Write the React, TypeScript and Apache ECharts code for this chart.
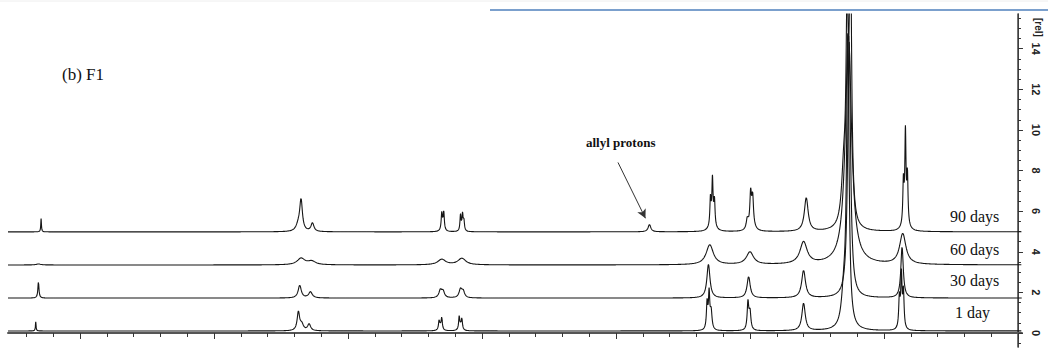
import React, { useEffect, useRef } from "react";
import * as echarts from "echarts";

// Chemical-shift window of the stacked 1H spectra (ppm, drawn high → low)
const PPM_MIN = -0.03;
const PPM_MAX = 7.537;
const PPM_STEP = 0.001;

// Intensity window of the right-hand [rel] axis
const REL_MIN = -0.69;
const REL_MAX = 15.71;

// Tick positions
const xMajorTicks = [0, 1, 2, 3, 4, 5, 6, 7];
const xMinorTicks = [0.2, 0.4, 0.6, 0.8, 1.2, 1.4, 1.6, 1.8, 2.2, 2.4, 2.6, 2.8, 3.2, 3.4, 3.6, 3.8, 4.2, 4.4, 4.6, 4.8, 5.2, 5.4, 5.6, 5.8, 6.2, 6.4, 6.6, 6.8, 7.2, 7.4];
const yMajorTicks = [0, 2, 4, 6, 8, 10, 12, 14];
const yMinorTicks = [-0.5, 0.5, 1, 1.5, 2.5, 3, 3.5, 4.5, 5, 5.5, 6.5, 7, 7.5, 8.5, 9, 9.5, 10.5, 11, 11.5, 12.5, 13, 13.5, 14.5, 15, 15.5];

// Storage-time labels and the vertical offset of each trace
const dayLabels = ["1 day", "30 days", "60 days", "90 days"];
const stackOffsets = [0.1, 1.72, 3.35, 4.98];

// Resonances of each trace: [shift ppm, height rel, half-width ppm]
const peaks1Day: [number, number, number][] = [
  [7.33, 0.45, 0.003],
  [5.37, 0.9, 0.011], [5.345, 0.3, 0.015],
  [5.29, 0.33, 0.013],
  [4.32, 0.42, 0.005], [4.30, 0.55, 0.005], [4.31, 0.2, 0.012],
  [4.17, 0.6, 0.005], [4.15, 0.5, 0.005], [4.16, 0.2, 0.012],
  [2.32, 1.3, 0.006], [2.305, 1.75, 0.006], [2.29, 0.9, 0.008],
  [2.015, 1.35, 0.007], [2.00, 0.9, 0.008],
  [1.60, 1.35, 0.015],
  [1.27, 14.2, 0.011], [1.30, 1.5, 0.02],
  [0.87, 2.6, 0.006], [0.855, 1.8, 0.006], [0.885, 1.5, 0.006],
];

const peaks30Days: [number, number, number][] = [
  [7.31, 0.8, 0.005],
  [5.36, 0.62, 0.014],
  [5.28, 0.3, 0.016],
  [4.31, 0.38, 0.013], [4.29, 0.3, 0.012],
  [4.16, 0.42, 0.013], [4.14, 0.3, 0.012],
  [2.31, 1.65, 0.014],
  [2.01, 1.05, 0.014],
  [1.60, 1.35, 0.017],
  [1.26, 12.6, 0.013],
  [0.865, 2.5, 0.011],
];

const peaks60Days: [number, number, number][] = [
  [7.31, 0.05, 0.02],
  [5.35, 0.32, 0.035],
  [5.27, 0.17, 0.035],
  [4.30, 0.27, 0.035],
  [4.15, 0.32, 0.035],
  [2.30, 0.98, 0.032],
  [2.00, 0.62, 0.032],
  [1.60, 1.08, 0.032],
  [1.265, 11.3, 0.028],
  [0.86, 1.5, 0.028],
];

const peaks90Days: [number, number, number][] = [
  [7.29, 0.65, 0.003],
  [5.35, 1.5, 0.012], [5.37, 0.3, 0.02],
  [5.265, 0.42, 0.013],
  [4.30, 0.75, 0.005], [4.285, 0.85, 0.005], [4.295, 0.2, 0.012],
  [4.16, 0.8, 0.005], [4.145, 0.8, 0.005], [4.135, 0.5, 0.005],
  [2.75, 0.36, 0.012],
  [2.295, 1.3, 0.005], [2.28, 2.05, 0.005], [2.265, 1.2, 0.005], [2.28, 0.5, 0.02],
  [1.995, 1.55, 0.007], [1.98, 1.3, 0.007], [2.02, 0.5, 0.009], [1.985, 0.4, 0.02],
  [1.58, 1.65, 0.017],
  [1.25, 13.5, 0.01], [1.275, 9.5, 0.01], [1.30, 2.5, 0.02],
  [0.84, 4.2, 0.005], [0.825, 2.3, 0.005], [0.855, 2.0, 0.005], [0.84, 0.6, 0.02],
];

const tracePeaks = [peaks1Day, peaks30Days, peaks60Days, peaks90Days];

// Allyl annotation arrow, in axis units
const allylArrowFrom: [number, number] = [2.985, 8.4];
const allylArrowTo: [number, number] = [2.78, 5.65];

function buildTrace(peaks: [number, number, number][], offset: number): [number, number][] {
  const pts: [number, number][] = [];
  const n = Math.round((PPM_MAX - PPM_MIN) / PPM_STEP);
  for (let i = 0; i <= n; i++) {
    const p = PPM_MAX - i * PPM_STEP;
    let v = offset;
    for (const [c, h, w] of peaks) {
      const d = (p - c) / w;
      v += h / (1 + d * d);
    }
    pts.push([+p.toFixed(4), +v.toFixed(4)]);
  }
  return pts;
}

const serif = "'Liberation Serif', 'DejaVu Serif', serif";
const sans = "'Liberation Sans', Arial, sans-serif";

export default function App() {
  const ref = useRef<HTMLDivElement>(null);

  useEffect(() => {
    if (!ref.current) return;
    const chart = echarts.init(ref.current, undefined, { renderer: "svg" });

    const series: any[] = tracePeaks.map((pk, i) => ({
      type: "line",
      name: dayLabels[i],
      data: buildTrace(pk, stackOffsets[i]),
      xAxisIndex: 0,
      yAxisIndex: 0,
      showSymbol: false,
      symbol: "none",
      silent: true,
      clip: true,
      lineStyle: { color: "#151515", width: 1.1 },
      z: 3,
    }));

    series[3].markLine = {
      silent: true,
      symbol: ["none", "arrow"],
      symbolSize: [7, 9],
      lineStyle: { color: "#333", width: 1, type: "solid" },
      label: { show: false },
      data: [[{ coord: allylArrowFrom }, { coord: allylArrowTo }]],
    };

    const baseAxis = { min: PPM_MIN, max: PPM_MAX, inverse: true, type: "value" as const };
    const relAxis = { min: REL_MIN, max: REL_MAX, type: "value" as const };

    chart.setOption({
      animation: false,
      backgroundColor: "#ffffff",
      grid: { left: 8, right: 26, top: 14, bottom: 9, containLabel: false },
      xAxis: [
        {
          ...baseAxis,
          position: "bottom",
          axisLine: { show: false },
          axisTick: { show: true, length: 6, customValues: xMajorTicks, lineStyle: { color: "#333" } },
          axisLabel: { show: false },
          splitLine: { show: false },
        },
        {
          ...baseAxis,
          position: "bottom",
          axisLine: { show: false },
          axisTick: { show: true, length: 4, customValues: xMinorTicks, lineStyle: { color: "#333" } },
          axisLabel: { show: false },
          splitLine: { show: false },
        },
        {
          ...baseAxis,
          position: "top",
          axisLine: { show: true, lineStyle: { color: "#555", width: 2 } },
          axisTick: { show: false },
          axisLabel: { show: false },
          splitLine: { show: false },
        },
      ],
      yAxis: [
        {
          ...relAxis,
          position: "right",
          axisLine: { show: true, lineStyle: { color: "#333", width: 1 } },
          axisTick: { show: true, length: 5, customValues: yMajorTicks, lineStyle: { color: "#333" } },
          axisLabel: {
            show: true,
            customValues: yMajorTicks,
            rotate: -90,
            margin: 8,
            fontSize: 11,
            fontWeight: "bold",
            fontFamily: sans,
            color: "#222",
          },
          splitLine: { show: false },
        },
        {
          ...relAxis,
          position: "right",
          axisLine: { show: false },
          axisTick: { show: true, length: 3, customValues: yMinorTicks, lineStyle: { color: "#333" } },
          axisLabel: { show: false },
          splitLine: { show: false },
        },
        {
          ...relAxis,
          position: "left",
          axisLine: { show: true, lineStyle: { color: "#444", width: 1.5 } },
          axisTick: { show: false },
          axisLabel: { show: false },
          splitLine: { show: false },
        },
      ],
      series,
      graphic: [
        { type: "line", shape: { x1: 0, y1: 1, x2: 1048, y2: 1 }, style: { stroke: "#eeeeee", lineWidth: 1 }, silent: true },
        { type: "line", shape: { x1: 490, y1: 10, x2: 1048, y2: 10 }, style: { stroke: "#4f81bd", lineWidth: 1.5 }, silent: true },
        {
          type: "text",
          left: 1033,
          top: 18,
          rotation: -Math.PI / 2,
          style: { text: "[rel]", font: `bold 10px ${sans}`, fill: "#222" },
          silent: true,
        },
        {
          type: "text",
          x: 62,
          y: 66,
          style: { text: "(b) F1", font: `17px ${serif}`, fill: "#111" },
          silent: true,
        },
        {
          type: "text",
          x: 586,
          y: 136,
          style: { text: "allyl protons", font: `bold 13px ${serif}`, fill: "#111" },
          silent: true,
        },
        { type: "text", x: 950, y: 208, style: { text: dayLabels[3], font: `16px ${serif}`, fill: "#111" }, silent: true },
        { type: "text", x: 950, y: 241, style: { text: dayLabels[2], font: `16px ${serif}`, fill: "#111" }, silent: true },
        { type: "text", x: 950, y: 272, style: { text: dayLabels[1], font: `16px ${serif}`, fill: "#111" }, silent: true },
        { type: "text", x: 955, y: 304, style: { text: dayLabels[0], font: `16px ${serif}`, fill: "#111" }, silent: true },
      ],
    });

    return () => chart.dispose();
  }, []);

  return (
    <div
      ref={ref}
      style={{ position: "absolute", left: 0, top: 0, width: 1048, height: 356, background: "#fff" }}
    />
  );
}
